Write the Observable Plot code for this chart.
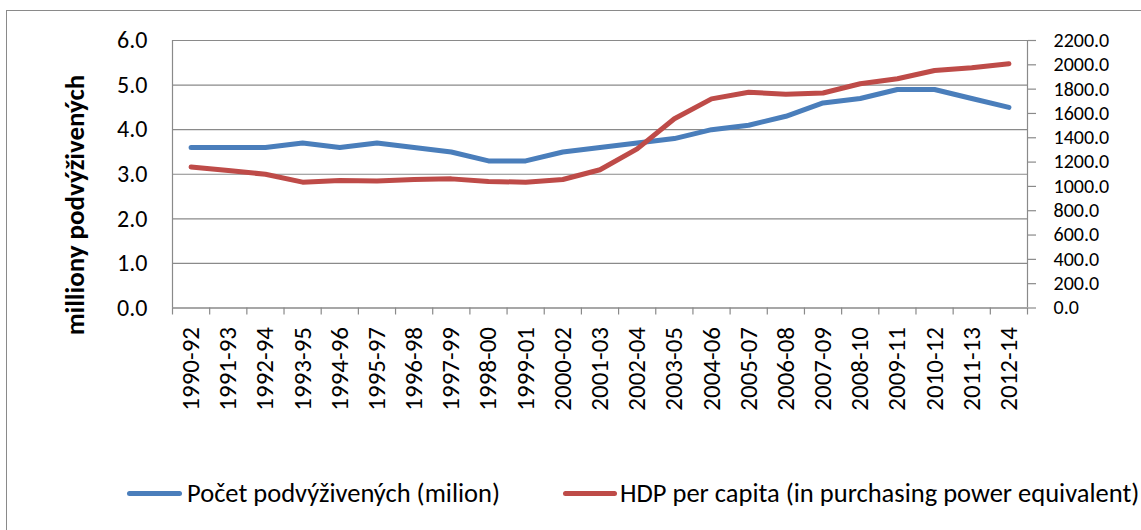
<!DOCTYPE html>
<html><head><meta charset="utf-8">
<script src="https://cdn.jsdelivr.net/npm/d3@7"></script>
<script src="https://cdn.jsdelivr.net/npm/@observablehq/plot@0.6"></script>
<style>
body{margin:0;background:#fff;overflow:hidden;}
#wrap{position:relative;width:1141px;height:530px;overflow:hidden;font-family:Carlito,Lato,sans-serif;color:#000;}
#frame{position:absolute;left:6px;top:10px;width:1200px;height:600px;border:1px solid #8a8a8a;}
#chart{position:absolute;left:0;top:0;}
#ytitle{position:absolute;left:74px;top:205px;transform:translate(-50%,-50%) rotate(-90deg);font-weight:bold;font-size:27px;white-space:nowrap;}
.sw{position:absolute;height:5px;border-radius:3px;top:491px;}
.lt{position:absolute;top:477px;font-size:26.5px;line-height:32px;white-space:nowrap;}
</style></head>
<body>
<div id="wrap">
  <div id="frame"></div>
  <div id="chart"></div>
  <div id="ytitle"></div>
  <div id="legend"></div>
</div>
<script>
const periods = ["1990-92","1991-93","1992-94","1993-95","1994-96","1995-97","1996-98","1997-99","1998-00","1999-01","2000-02","2001-03","2002-04","2003-05","2004-06","2005-07","2006-08","2007-09","2008-10","2009-11","2010-12","2011-13","2012-14"];
const undernourished = [3.6,3.6,3.6,3.7,3.6,3.7,3.6,3.5,3.3,3.3,3.5,3.6,3.7,3.8,4.0,4.1,4.3,4.6,4.7,4.9,4.9,4.7,4.5];
const gdpPerCapita = [1160,1130,1100,1035,1048,1045,1057,1062,1040,1035,1057,1137,1309,1556,1720,1775,1758,1768,1844,1885,1953,1975,2008];
const leftTicks = [0,1,2,3,4,5,6];
const rightTicks = [0,200,400,600,800,1000,1200,1400,1600,1800,2000,2200];
const seriesNames = ["Počet podvýživených (milion)","HDP per capita (in purchasing power equivalent)"];
const yTitle = "milliony podvýživených";
const colors = ["#4a7ebb","#be4b48"];

const leftMax = 6, rightMax = 2200;
const toLeft = v => v * leftMax / rightMax;
const idx = periods.map((_, i) => i);
const boundaries = d3.range(periods.length + 1).map(i => i - 0.5);
const grey = "#8a8a8a";
const font = "Carlito, Lato, sans-serif";

const plot = Plot.plot({
  width: 1141, height: 470,
  marginTop: 40, marginBottom: 162.5, marginLeft: 172, marginRight: 114,
  style: {fontFamily: font, fontSize: "24px", color: "#000", background: "transparent", overflow: "visible"},
  x: {domain: [-0.5, periods.length - 0.5], axis: null},
  y: {domain: [0, leftMax], axis: null},
  marks: [
    Plot.gridY(leftTicks, {stroke: grey, strokeOpacity: 1, strokeWidth: 1.2}),
    Plot.ruleX([-0.5, periods.length - 0.5], {stroke: grey, strokeWidth: 1.2}),
    Plot.ruleY([0], {stroke: grey, strokeWidth: 1.2}),
    Plot.axisX(boundaries, {tickSize: 7, tickFormat: () => "", stroke: grey, strokeWidth: 1.2}),
    Plot.axisX(idx, {tickSize: 0, tickPadding: 19, tickRotate: -90, fontSize: 25, tickFormat: i => periods[i]}),
    Plot.axisY(leftTicks, {anchor: "left", tickSize: 0, tickPadding: 25, tickFormat: d => d.toFixed(1)}),
    Plot.axisY(rightTicks.map(toLeft), {anchor: "right", tickSize: 8, tickFormat: () => "", stroke: grey, strokeWidth: 1.2}),
    Plot.text(rightTicks, {y: d => toLeft(d), frameAnchor: "right", dx: 26, textAnchor: "start", text: d => d.toFixed(1), fontSize: 20}),
    Plot.line(idx, {x: i => i, y: i => undernourished[i], stroke: colors[0], strokeWidth: 5, strokeLinecap: "round", strokeLinejoin: "round"}),
    Plot.line(idx, {x: i => i, y: i => toLeft(gdpPerCapita[i]), stroke: colors[1], strokeWidth: 5, strokeLinecap: "round", strokeLinejoin: "round"})
  ]
});
document.getElementById("chart").append(plot);
document.getElementById("ytitle").textContent = yTitle;

const legend = document.getElementById("legend");
const swX = [[127, 55], [563, 54]];
const txX = [187, 620];
seriesNames.forEach((name, k) => {
  const sw = document.createElement("div");
  sw.className = "sw";
  sw.style.left = swX[k][0] + "px"; sw.style.width = swX[k][1] + "px"; sw.style.background = colors[k];
  legend.append(sw);
  const t = document.createElement("div");
  t.className = "lt"; t.style.left = txX[k] + "px"; t.textContent = name;
  legend.append(t);
});
</script>
</body></html>
